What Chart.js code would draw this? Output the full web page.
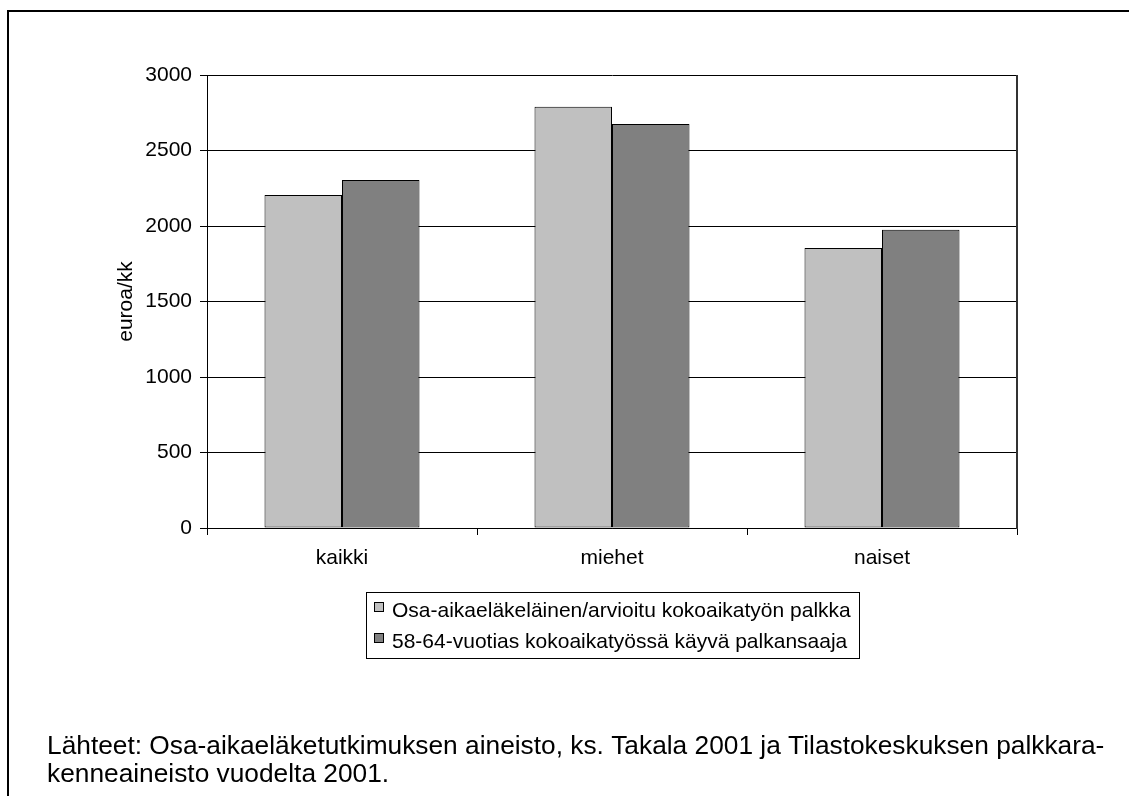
<!DOCTYPE html>
<html><head><meta charset="utf-8">
<script src="https://cdn.jsdelivr.net/npm/chart.js@4.4.0/dist/chart.umd.min.js"></script>
<style>html,body{margin:0;padding:0;background:#fff;overflow:hidden}#wrap{position:absolute;left:0;top:0;width:1129px;height:796px}</style>
</head><body><div id="wrap"><canvas id="c" width="1129" height="796"></canvas></div>
<script>
const categories = ['kaikki', 'miehet', 'naiset'];
const seriesNames = ['Osa-aikaeläkeläinen/arvioitu kokoaikatyön palkka', '58-64-vuotias kokoaikatyössä käyvä palkansaaja'];
const osaAikaValues = [2205, 2790, 1855];
const kokoaikaValues = [2305, 2675, 1975];
const yTicks = [0, 500, 1000, 1500, 2000, 2500, 3000];
const yAxisTitle = 'euroa/kk';
const sourceLines = ['Lähteet: Osa-aikaeläketutkimuksen aineisto, ks. Takala 2001 ja Tilastokeskuksen palkkara-', 'kenneaineisto vuodelta 2001.'];

const FONT = "'Liberation Sans', Arial, sans-serif";

const decor = {
  id: 'decor',
  afterDraw(chart) {
    const ctx = chart.ctx;
    const a = chart.chartArea;
    ctx.save();
    // outer frame
    ctx.fillStyle = '#000';
    ctx.fillRect(7, 10, 2, 786);
    ctx.fillRect(7, 10, 1122, 2);
    // plot area right border
    ctx.fillStyle = '#333';
    ctx.fillRect(Math.round(a.right) - 1, Math.round(a.top), 2, Math.round(a.bottom - a.top) + 1);
    // legend
    ctx.font = '21px ' + FONT;
    ctx.textBaseline = 'alphabetic';
    ctx.textAlign = 'left';
    const ds = chart.data.datasets;
    let tw = 0;
    ds.forEach(d => { tw = Math.max(tw, ctx.measureText(d.label).width); });
    const boxW = 26 + tw + 8;
    const cx = (a.left + a.right) / 2;
    const bx = Math.round(cx - boxW / 2), by = 592, bh = 66;
    ctx.strokeStyle = '#000'; ctx.lineWidth = 1;
    ctx.strokeRect(bx + 0.5, by + 0.5, Math.round(boxW), bh);
    ds.forEach((d, i) => {
      const base = 617 + i * 31;
      ctx.fillStyle = d.backgroundColor;
      ctx.fillRect(bx + 8, base - 15, 10, 10);
      ctx.strokeStyle = '#000';
      ctx.strokeRect(bx + 8.5, base - 14.5, 9, 9);
      ctx.fillStyle = '#000';
      ctx.fillText(d.label, bx + 26, base);
    });
    // source text
    ctx.font = '26.3px ' + FONT;
    ctx.fillStyle = '#000';
    sourceLines.forEach((t, i) => ctx.fillText(t, 47, 754 + i * 28));
    ctx.restore();
  }
};

new Chart(document.getElementById('c'), {
  type: 'bar',
  data: {
    labels: categories,
    datasets: [
      { label: seriesNames[0], data: osaAikaValues, backgroundColor: '#C0C0C0', borderColor: '#000', borderWidth: 1, borderSkipped: false, categoryPercentage: 0.574, barPercentage: 1 },
      { label: seriesNames[1], data: kokoaikaValues, backgroundColor: '#808080', borderColor: '#000', borderWidth: 1, borderSkipped: false, categoryPercentage: 0.574, barPercentage: 1 }
    ]
  },
  options: {
    responsive: false,
    animation: false,
    devicePixelRatio: 1,
    layout: { padding: { left: 100, right: 112, top: 75, bottom: 208 } },
    plugins: { legend: { display: false }, tooltip: { enabled: false } },
    scales: {
      x: {
        grid: { display: true, drawOnChartArea: false, drawTicks: true, tickLength: 7, color: '#000', offset: true },
        border: { display: true, color: '#000', width: 1 },
        ticks: { font: { family: FONT, size: 21 }, color: '#000', padding: 11 },
        afterFit: s => { s.height = 60; }
      },
      y: {
        min: 0, max: 3000,
        afterBuildTicks: s => { s.ticks = yTicks.map(v => ({ value: v })); },
        grid: { color: '#000', lineWidth: 1, tickLength: 7, drawTicks: true },
        border: { display: true, color: '#000', width: 1 },
        ticks: { font: { family: FONT, size: 21 }, color: '#000', padding: 8, callback: v => String(v) },
        title: { display: true, text: yAxisTitle, font: { family: FONT, size: 21 }, color: '#000', padding: { top: 14, bottom: 0 } },
        afterFit: s => { s.width = 107; }
      }
    }
  },
  plugins: [decor]
});
</script>
</body></html>
